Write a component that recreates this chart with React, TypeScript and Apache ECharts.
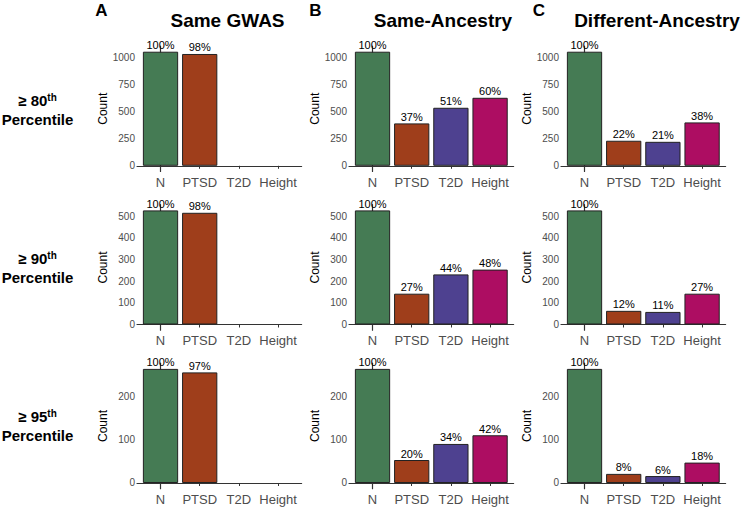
import React, { useEffect, useRef } from "react";
import * as echarts from "echarts";

const categories = ["N", "PTSD", "T2D", "Height"];
const colors = ["#457B54", "#9F3E1B", "#4E4190", "#AD0D62"];
const panelTitles = ["Same GWAS", "Same-Ancestry", "Different-Ancestry"];
const panelLetters = ["A", "B", "C"];
const percentiles = ["80", "90", "95"];

// Same GWAS
const sameGwas80 = [1052, 1031];
const sameGwas90 = [526, 515];
const sameGwas95 = [263, 255];
const sameGwasPct80 = [100, 98];
const sameGwasPct90 = [100, 98];
const sameGwasPct95 = [100, 97];
// Same-Ancestry
const sameAnc80 = [1052, 391, 535, 627];
const sameAnc90 = [526, 142, 231, 253];
const sameAnc95 = [263, 53, 90, 110];
const sameAncPct80 = [100, 37, 51, 60];
const sameAncPct90 = [100, 27, 44, 48];
const sameAncPct95 = [100, 20, 34, 42];
// Different-Ancestry
const diffAnc80 = [1052, 231, 221, 400];
const diffAnc90 = [526, 63, 58, 142];
const diffAnc95 = [263, 21, 16, 47];
const diffAncPct80 = [100, 22, 21, 38];
const diffAncPct90 = [100, 12, 11, 27];
const diffAncPct95 = [100, 8, 6, 18];

const yTicks80 = [0, 250, 500, 750, 1000];
const yTicks90 = [0, 100, 200, 300, 400, 500];
const yTicks95 = [0, 100, 200];

const rowMax = [1052, 526, 263];

const values = [
  [sameGwas80, sameAnc80, diffAnc80],
  [sameGwas90, sameAnc90, diffAnc90],
  [sameGwas95, sameAnc95, diffAnc95],
];
const pcts = [
  [sameGwasPct80, sameAncPct80, diffAncPct80],
  [sameGwasPct90, sameAncPct90, diffAncPct90],
  [sameGwasPct95, sameAncPct95, diffAncPct95],
];
const yTicks = [yTicks80, yTicks90, yTicks95];

const FONT = "'Liberation Sans', Arial, Helvetica, sans-serif";

export default function App() {
  const ref = useRef<HTMLDivElement>(null);
  useEffect(() => {
    if (!ref.current) return;
    const chart = echarts.init(ref.current, null, { renderer: "svg" });
    const colX = [137, 349, 561];
    const gridW = 164.6;
    const rowTop = [46, 204.7, 363.2];
    const gridH = 125.5;
    const catW = gridW / 4.2;

    const grid: any[] = [];
    const xAxis: any[] = [];
    const yAxis: any[] = [];
    const series: any[] = [];

    for (let r = 0; r < 3; r++) {
      for (let c = 0; c < 3; c++) {
        const idx = r * 3 + c;
        grid.push({ left: colX[c], top: rowTop[r], width: gridW, height: gridH, containLabel: false });
        xAxis.push({
          type: "value",
          gridIndex: idx,
          min: -0.6,
          max: 3.6,
          splitLine: { show: false },
          axisLine: { show: true, lineStyle: { color: "#333", width: 1.2 } },
          axisTick: { show: true, length: 3, customValues: [0, 1, 2, 3], lineStyle: { color: "#333", width: 1 } },
          axisLabel: {
            customValues: [0, 1, 2, 3],
            formatter: (v: number) => categories[Math.round(v)],
            fontSize: 13,
            color: "#4D4D4D",
            fontFamily: FONT,
            margin: 4,
          },
        });
        yAxis.push({
          type: "value",
          gridIndex: idx,
          min: -0.05 * rowMax[r],
          max: 1.05 * rowMax[r],
          name: "Count",
          nameLocation: "middle",
          nameRotate: 90,
          nameGap: 28,
          nameTextStyle: { fontSize: 12, color: "#000", fontFamily: FONT },
          splitLine: { show: false },
          axisLine: { show: true, lineStyle: { color: "#333", width: 1.2 } },
          axisTick: { show: true, length: 3, customValues: yTicks[r], lineStyle: { color: "#333", width: 1 } },
          axisLabel: {
            customValues: yTicks[r],
            formatter: (v: number) => String(v),
            fontSize: 10,
            color: "#4D4D4D",
            fontFamily: FONT,
            margin: 2,
          },
        });
        const vals = values[r][c];
        const pc = pcts[r][c];
        series.push({
          type: "bar",
          xAxisIndex: idx,
          yAxisIndex: idx,
          barWidth: catW * 0.9,
          data: vals.map((v, j) => ({
            value: [j, v],
            itemStyle: { color: colors[j], borderColor: "#222", borderWidth: 1 },
            label: { formatter: pc[j] + "%" },
          })),
          label: {
            show: true,
            position: "top",
            distance: 1,
            fontSize: 11,
            color: "#000",
            fontFamily: FONT,
          },
        });
      }
    }

    const graphic: any[] = [];
    const titleX = [227.5, 443, 657];
    const letterX = [101.5, 315.5, 539];
    for (let c = 0; c < 3; c++) {
      graphic.push({
        type: "text",
        x: titleX[c],
        y: 20,
        style: { text: panelTitles[c], font: `bold 19px ${FONT}`, fill: "#000", align: "center", verticalAlign: "middle" },
      });
      graphic.push({
        type: "text",
        x: letterX[c],
        y: 10.5,
        style: { text: panelLetters[c], font: `bold 17px ${FONT}`, fill: "#000", align: "center", verticalAlign: "middle" },
      });
    }
    const rowLabelY = [100, 258.5, 416];
    for (let r = 0; r < 3; r++) {
      graphic.push({
        type: "text",
        x: 37.5,
        y: rowLabelY[r],
        style: {
          text: `{b|≥ ${percentiles[r]}}{s|th}`,
          align: "center",
          verticalAlign: "middle",
          rich: {
            b: { font: `bold 15px ${FONT}`, fill: "#000", color: "#000" },
            s: { font: `bold 10px ${FONT}`, fill: "#000", color: "#000", verticalAlign: "top", padding: [0, 0, 6, 0] },
          },
        },
      });
      graphic.push({
        type: "text",
        x: 37.5,
        y: rowLabelY[r] + 19,
        style: { text: "Percentile", font: `bold 15px ${FONT}`, fill: "#000", align: "center", verticalAlign: "middle" },
      });
    }

    chart.setOption({
      animation: false,
      backgroundColor: "#fff",
      grid,
      xAxis,
      yAxis,
      series,
      graphic,
    });
    return () => chart.dispose();
  }, []);
  return <div ref={ref} style={{ position: "fixed", left: 0, top: 0, width: 747, height: 507 }} />;
}
